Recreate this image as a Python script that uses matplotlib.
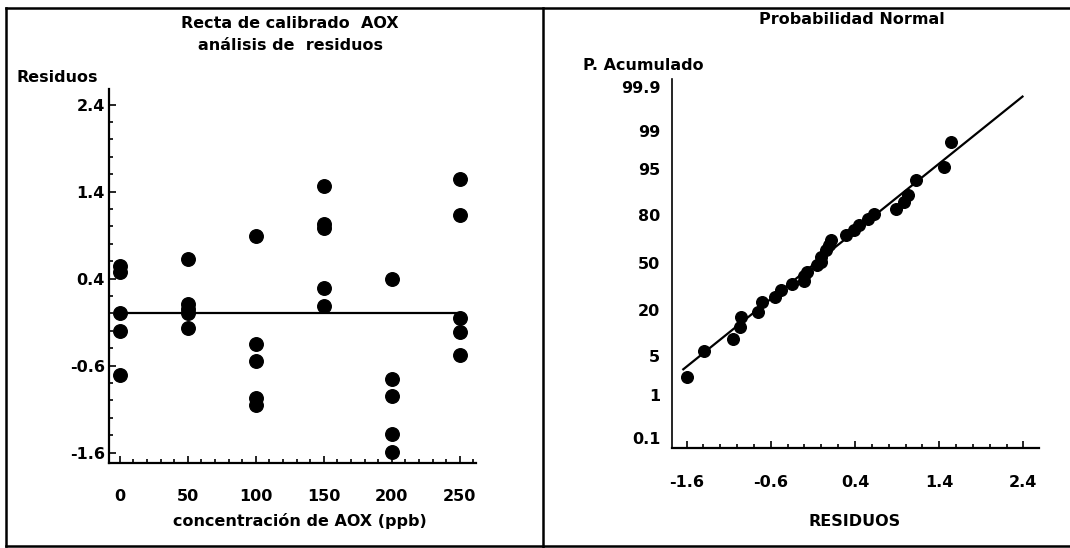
import numpy as np
import matplotlib
matplotlib.use("Agg")
import matplotlib.pyplot as plt
from matplotlib.ticker import MultipleLocator
from statistics import NormalDist

# left panel: residuals by AOX concentration (ppb)
conc = [0, 0, 0, 0, 0,
        50, 50, 50, 50, 50,
        100, 100, 100, 100, 100,
        150, 150, 150, 150, 150,
        200, 200, 200, 200, 200,
        250, 250, 250, 250, 250]
resid = [0.55, 0.48, 0.0, -0.2, -0.71,
         0.63, 0.11, 0.05, 0.0, -0.17,
         0.89, -0.35, -0.55, -0.97, -1.05,
         1.46, 1.03, 0.98, 0.29, 0.09,
         0.39, -0.75, -0.95, -1.39, -1.59,
         1.54, 1.13, -0.05, -0.21, -0.48]
conc_ticks = [0, 50, 100, 150, 200, 250]
resid_ticks = [-1.6, -0.6, 0.4, 1.4, 2.4]

# right panel: normal probability plot (residual, cumulative %)
np_resid = [-1.59, -1.39, -1.05, -0.97, -0.95, -0.75, -0.71, -0.55, -0.48, -0.35,
            -0.21, -0.20, -0.17, -0.05, 0.00, 0.00, 0.05, 0.09, 0.11, 0.29,
            0.39, 0.45, 0.55, 0.63, 0.89, 0.98, 1.03, 1.13, 1.46, 1.54]
np_prob = [2.2, 5.9, 8.9, 12.7, 16.8, 19.1, 24.3, 27.1, 31.6, 35.5,
           37.6, 40.5, 43.3, 48.0, 50.5, 53.9, 58.5, 62.0, 65.3, 68.4,
           71.5, 74.5, 78.1, 80.6, 82.9, 85.8, 88.3, 92.7, 95.4, 98.3]
fit_resid = [-1.64, 2.39]
fit_prob = [3.0, 99.83]
prob_ticks = [0.1, 1, 5, 20, 50, 80, 95, 99, 99.9]
prob_labels = ["0.1", "1", "5", "20", "50", "80", "95", "99", "99.9"]

plt.rcParams['font.family'] = ['DejaVu Sans']
plt.rcParams['font.weight'] = 'bold'
FS = 11.5

W, H = 1070, 548
fig = plt.figure(figsize=(W / 100, H / 100), dpi=100)


def fx(px):
    return px / W


def fy(py):
    return 1 - py / H


nd = NormalDist()


# normal probability scale for the cumulative % axis
def fwd(p):
    p = np.clip(np.asarray(p, dtype=float), 1e-6, 100 - 1e-6)
    return np.array([nd.inv_cdf(v / 100) for v in p.ravel()]).reshape(p.shape)


def inv(z):
    z = np.asarray(z, dtype=float)
    return np.array([nd.cdf(v) * 100 for v in z.ravel()]).reshape(z.shape)


def style(ax):
    for s in ['top', 'right']:
        ax.spines[s].set_visible(False)
    for s in ['left', 'bottom']:
        ax.spines[s].set_linewidth(1.6)
    ax.tick_params(which='both', direction='in', width=1.2, labelsize=FS)
    ax.tick_params(which='major', length=5)
    ax.tick_params(which='minor', length=3)
    for lab in ax.get_xticklabels() + ax.get_yticklabels():
        lab.set_fontweight('bold')


# ---- left panel
ax1 = fig.add_axes([fx(109), fy(463), fx(476 - 109), (463 - 89) / H])
ax1.scatter(conc, resid, s=95, color='black', zorder=3)
ax1.plot([0, 250], [0, 0], color='black', lw=1.6)
ax1.set_xlim(-8, 262)
ax1.set_ylim(-1.72, 2.58)
ax1.set_xticks(conc_ticks)
ax1.set_yticks(resid_ticks)
ax1.set_yticklabels([str(v) for v in resid_ticks])
ax1.xaxis.set_minor_locator(MultipleLocator(10))
ax1.yaxis.set_minor_locator(MultipleLocator(0.2))
style(ax1)
ax1.tick_params(axis='x', which='major', pad=19)
ax1.tick_params(axis='y', which='major', pad=3)

# ---- right panel
ax2 = fig.add_axes([fx(671.5), fy(448), fx(1038.5 - 671.5), (448 - 79) / H])
ax2.set_yscale('function', functions=(fwd, inv))
ax2.scatter(np_resid, np_prob, s=70, color='black', zorder=3)
ax2.plot(fit_resid, fit_prob, color='black', lw=1.6)
ax2.set_xlim(-1.78, 2.58)
ax2.set_ylim(0.054, 99.94)
ax2.set_xticks(resid_ticks)
ax2.set_xticklabels([str(v) for v in resid_ticks])
ax2.xaxis.set_minor_locator(MultipleLocator(0.2))
ax2.set_yticks(prob_ticks)
ax2.set_yticklabels(prob_labels)
ax2.yaxis.set_minor_locator(plt.NullLocator())
style(ax2)
ax2.spines['left'].set_linewidth(1.2)
ax2.tick_params(axis='y', which='major', length=0, pad=8)
ax2.tick_params(axis='x', which='major', pad=19.5)

# ---- texts
fig.text(fx(290), fy(23), "Recta de calibrado  AOX", ha='center', va='center', fontsize=FS, fontweight='bold')
fig.text(fx(290), fy(45), "análisis de  residuos", ha='center', va='center', fontsize=FS, fontweight='bold')
fig.text(fx(17), fy(77), "Residuos", ha='left', va='center', fontsize=FS, fontweight='bold')
fig.text(fx(300), fy(521), "concentración de AOX (ppb)", ha='center', va='center', fontsize=FS, fontweight='bold')
fig.text(fx(852), fy(19), "Probabilidad Normal", ha='center', va='center', fontsize=FS, fontweight='bold')
fig.text(fx(583), fy(66), "P. Acumulado", ha='left', va='center', fontsize=FS, fontweight='bold')
fig.text(fx(855), fy(521), "RESIDUOS", ha='center', va='center', fontsize=FS, fontweight='bold')

# ---- frame lines
frame = dict(color='black', lw=1.8, transform=fig.transFigure)
fig.add_artist(plt.Line2D([fx(6), fx(6)], [fy(8), fy(546)], **frame))
fig.add_artist(plt.Line2D([fx(6), fx(1070)], [fy(8), fy(8)], **frame))
fig.add_artist(plt.Line2D([fx(543), fx(543)], [fy(8), fy(548)], **frame))
fig.add_artist(plt.Line2D([fx(6), fx(1070)], [fy(546), fy(546)], **frame))

fig.savefig("out.png", dpi=100)
